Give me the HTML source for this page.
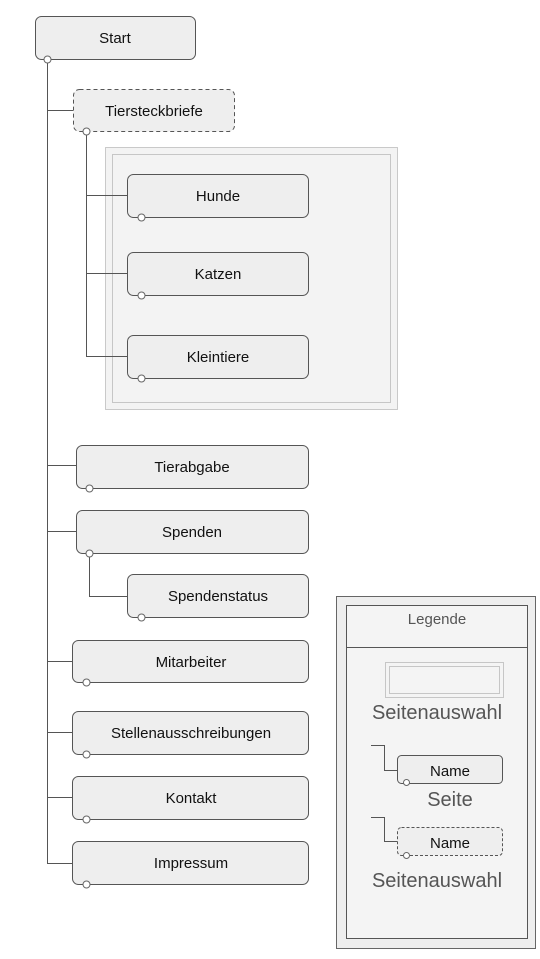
<!DOCTYPE html>
<html><head><meta charset="utf-8"><style>
html,body{margin:0;padding:0;background:#fff;}
svg{display:block;}
text{font-family:"Liberation Sans",sans-serif;}
</style></head><body>
<svg width="540" height="959" viewBox="0 0 540 959" xmlns="http://www.w3.org/2000/svg">
<g stroke="#555" stroke-width="1" fill="none">
<!-- main trunk -->
<line x1="47.5" y1="63" x2="47.5" y2="863.5"/>
<line x1="47" y1="110.5" x2="73" y2="110.5"/>
<line x1="47" y1="465.5" x2="76" y2="465.5"/>
<line x1="47" y1="531.5" x2="76" y2="531.5"/>
<line x1="47" y1="661.5" x2="72" y2="661.5"/>
<line x1="47" y1="732.5" x2="72" y2="732.5"/>
<line x1="47" y1="797.5" x2="72" y2="797.5"/>
<line x1="47" y1="863.5" x2="72" y2="863.5"/>
<!-- Tiersteckbriefe subtree -->
<line x1="86.5" y1="135" x2="86.5" y2="356.5"/>
<line x1="86" y1="195.5" x2="127" y2="195.5"/>
<line x1="86" y1="273.5" x2="127" y2="273.5"/>
<line x1="86" y1="356.5" x2="127" y2="356.5"/>
<!-- Spenden subtree -->
<line x1="89.5" y1="557" x2="89.5" y2="596.5"/>
<line x1="89" y1="596.5" x2="127" y2="596.5"/>
</g>
<!-- selection box -->
<rect x="105.5" y="147.5" width="292" height="262" fill="#f3f3f3" stroke="#999" stroke-dasharray="1,1"/>
<rect x="112.5" y="154.5" width="278" height="248" fill="#f3f3f3" stroke="#999" stroke-dasharray="1,1"/>
<g stroke="#555" stroke-width="1" fill="none">
<line x1="105" y1="195.5" x2="127" y2="195.5"/>
<line x1="105" y1="273.5" x2="127" y2="273.5"/>
<line x1="105" y1="356.5" x2="127" y2="356.5"/>
</g>
<g fill="#eeeeee" stroke="#555" stroke-width="1">
<rect x="35.5" y="16.5" width="160" height="43" rx="6"/>
<rect x="73.5" y="89.5" width="161" height="42" rx="6" stroke-dasharray="4,3"/>
<rect x="127.5" y="174.5" width="181" height="43" rx="6"/>
<rect x="127.5" y="252.5" width="181" height="43" rx="6"/>
<rect x="127.5" y="335.5" width="181" height="43" rx="6"/>
<rect x="76.5" y="445.5" width="232" height="43" rx="6"/>
<rect x="76.5" y="510.5" width="232" height="43" rx="6"/>
<rect x="127.5" y="574.5" width="181" height="43" rx="6"/>
<rect x="72.5" y="640.5" width="236" height="42" rx="6"/>
<rect x="72.5" y="711.5" width="236" height="43" rx="6"/>
<rect x="72.5" y="776.5" width="236" height="43" rx="6"/>
<rect x="72.5" y="841.5" width="236" height="43" rx="6"/>
</g>
<g fill="#fff" stroke="#666" stroke-width="1">
<circle cx="47.5" cy="59.5" r="3.5"/>
<circle cx="86.5" cy="131.5" r="3.5"/>
<circle cx="141.5" cy="217.5" r="3.5"/>
<circle cx="141.5" cy="295.5" r="3.5"/>
<circle cx="141.5" cy="378.5" r="3.5"/>
<circle cx="89.5" cy="488.5" r="3.5"/>
<circle cx="89.5" cy="553.5" r="3.5"/>
<circle cx="141.5" cy="617.5" r="3.5"/>
<circle cx="86.5" cy="682.5" r="3.5"/>
<circle cx="86.5" cy="754.5" r="3.5"/>
<circle cx="86.5" cy="819.5" r="3.5"/>
<circle cx="86.5" cy="884.5" r="3.5"/>
</g>
<g font-size="15" fill="#111" text-anchor="middle">
<text x="115" y="43">Start</text>
<text x="154" y="116">Tiersteckbriefe</text>
<text x="218" y="201">Hunde</text>
<text x="218" y="279">Katzen</text>
<text x="218" y="362">Kleintiere</text>
<text x="192" y="472">Tierabgabe</text>
<text x="192" y="537">Spenden</text>
<text x="218" y="601">Spendenstatus</text>
<text x="191" y="667">Mitarbeiter</text>
<text x="191" y="738">Stellenausschreibungen</text>
<text x="191" y="803">Kontakt</text>
<text x="191" y="868">Impressum</text>
</g>
<!-- legend -->
<rect x="336.5" y="596.5" width="199" height="352" fill="#eeeeee" stroke="#666"/>
<rect x="346.5" y="605.5" width="181" height="333" fill="#f4f4f4" stroke="#555"/>
<line x1="346" y1="647.5" x2="527" y2="647.5" stroke="#555"/>
<text x="437" y="624" font-size="15" fill="#555" text-anchor="middle">Legende</text>
<rect x="385.5" y="662.5" width="118" height="35" fill="none" stroke="#999" stroke-dasharray="1,1"/>
<rect x="389.5" y="666.5" width="110" height="27" fill="none" stroke="#999" stroke-dasharray="1,1"/>
<text x="437" y="719" font-size="20" fill="#555" text-anchor="middle">Seitenauswahl</text>
<path d="M371 745.5 H384.5 V770.5 H397" fill="none" stroke="#555"/>
<rect x="397.5" y="755.5" width="105" height="28" rx="4" fill="#eeeeee" stroke="#555"/>
<circle cx="406.5" cy="782.5" r="3" fill="#fff" stroke="#666"/>
<text x="450" y="776" font-size="15" fill="#111" text-anchor="middle">Name</text>
<text x="450" y="806" font-size="20" fill="#555" text-anchor="middle">Seite</text>
<path d="M371 817.5 H384.5 V841.5 H397" fill="none" stroke="#555"/>
<rect x="397.5" y="827.5" width="105" height="28" rx="4" fill="#eeeeee" stroke="#555" stroke-dasharray="3,2"/>
<circle cx="406.5" cy="855.5" r="3" fill="#fff" stroke="#666"/>
<text x="450" y="848" font-size="15" fill="#111" text-anchor="middle">Name</text>
<text x="437" y="887" font-size="20" fill="#555" text-anchor="middle">Seitenauswahl</text>
</svg>
</body></html>
